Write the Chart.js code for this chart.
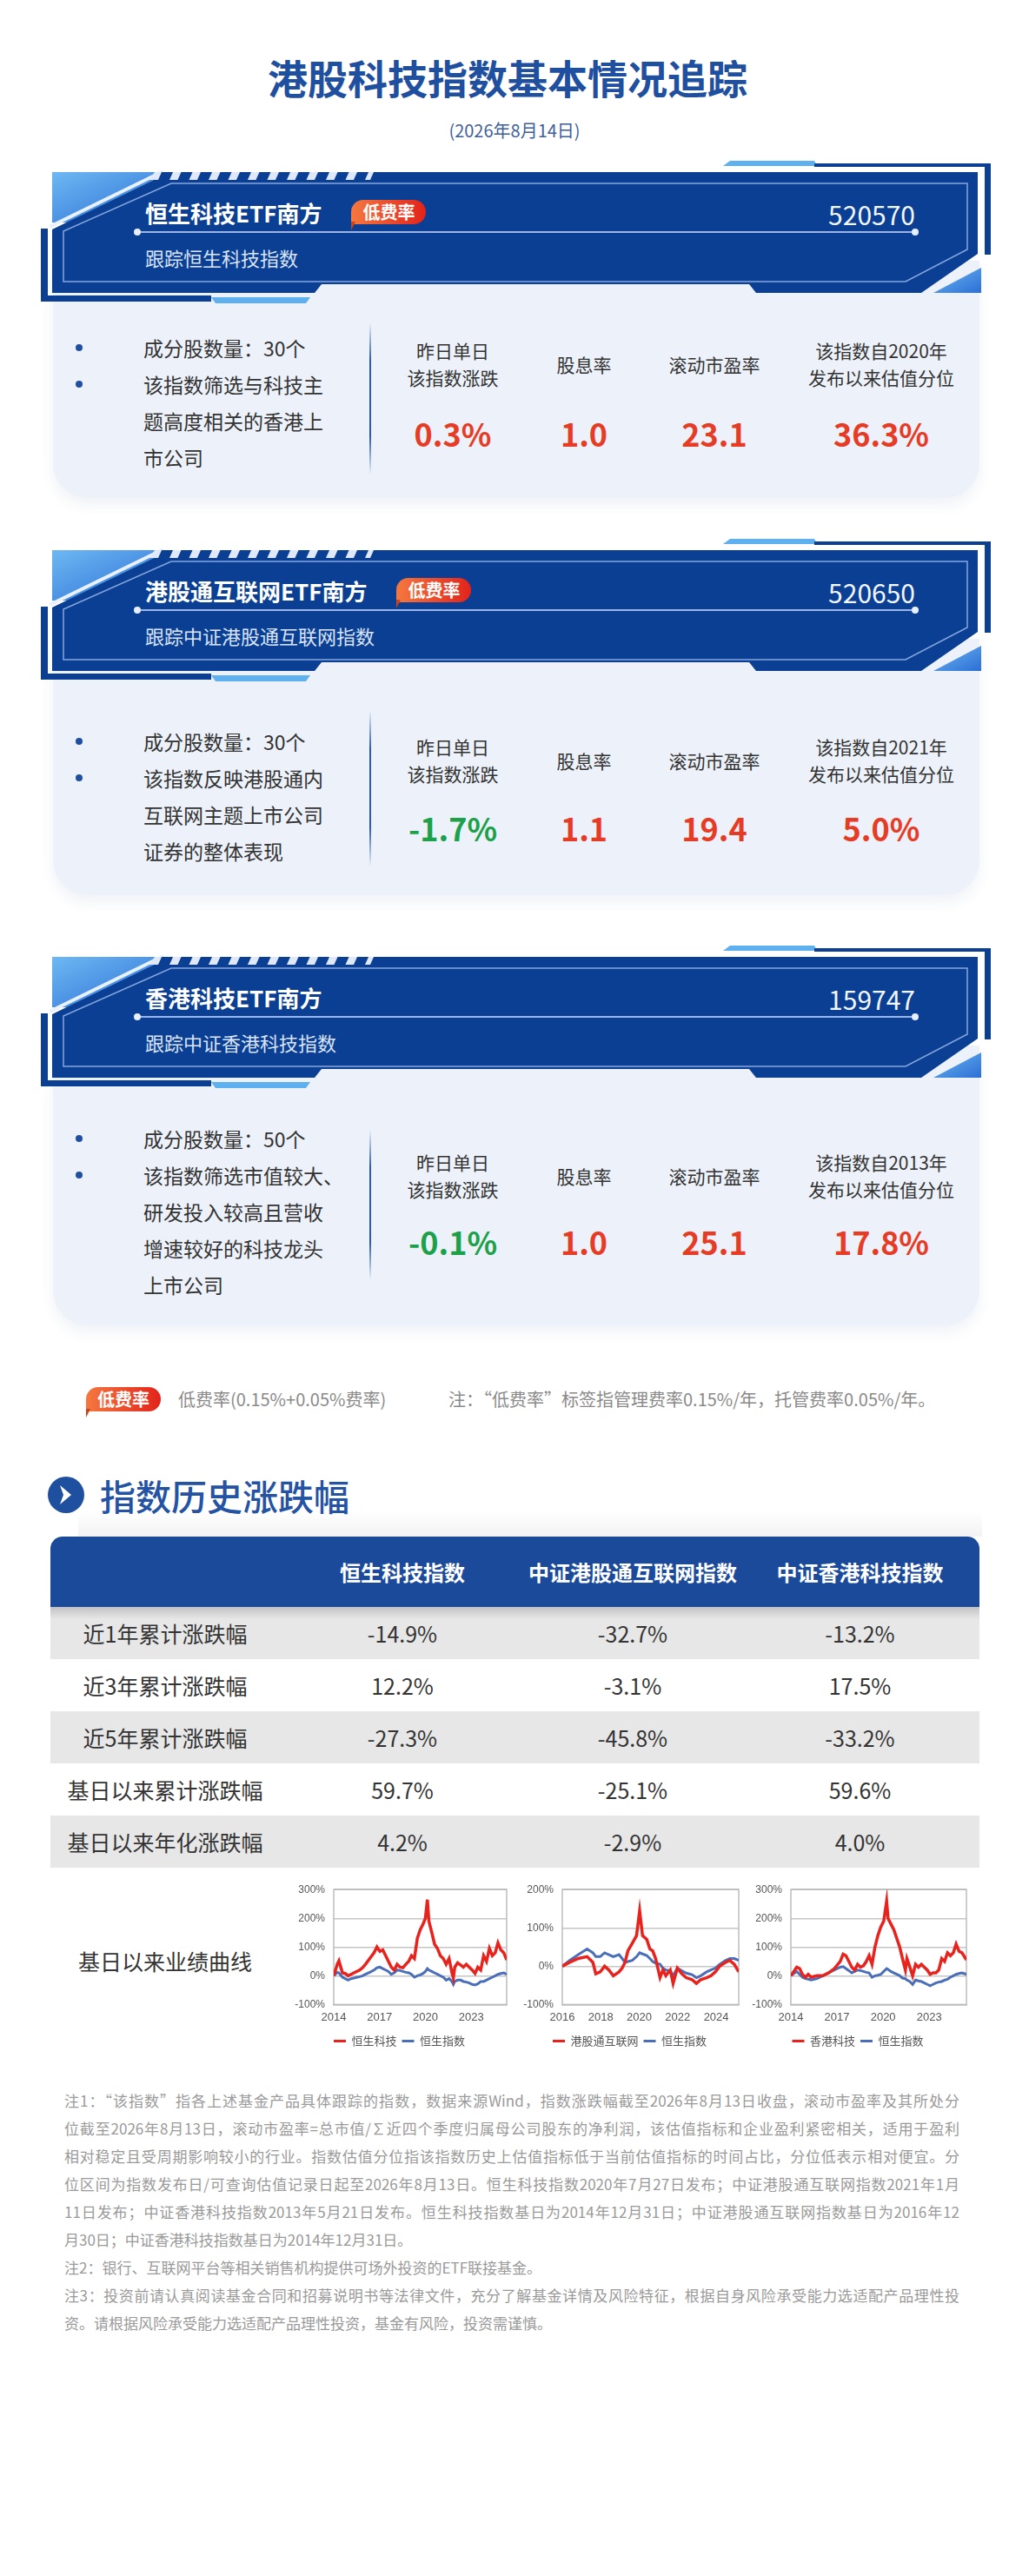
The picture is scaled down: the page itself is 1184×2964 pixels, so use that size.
<!DOCTYPE html>
<html lang="zh-CN">
<head>
<meta charset="utf-8">
<title>港股科技指数基本情况追踪</title>
<script src="https://cdn.jsdelivr.net/npm/chart.js@4.4.1/dist/chart.umd.min.js"></script>
<style>
  html, body { margin: 0; padding: 0; background: #fff; }
  body { position: relative; width: 1184px; height: 2964px; overflow: hidden;
         font-family: "Noto Sans CJK SC", "Noto Sans", sans-serif; color: #333; }
  .abs { position: absolute; }
  .title { left: 0; width: 1168px; top: 56px; text-align: center; font-size: 46px; line-height: 64px; font-weight: 700; color: #1f4f9f; }
  .date { left: 0; width: 1184px; top: 136px; text-align: center; font-size: 20px; line-height: 28px; color: #3f5f9c; }

  .card { position: absolute; left: 0; width: 1184px; height: 10px; }
  .cbody { position: absolute; left: 61px; width: 1066px; top: 100px; background: #edf2fa;
           border-radius: 0 0 40px 40px; box-shadow: 0 8px 16px rgba(40,70,130,0.07); }
  .banner { position: absolute; left: 40px; top: -20px; width: 1110px; height: 175px; }
  .ctitle { position: absolute; left: 167px; top: 26px; height: 36px; display: flex; align-items: center;
            font-size: 26px; font-weight: 700; color: #fff; white-space: nowrap; }
  .badge { display: inline-block; position: relative; height: 28px; line-height: 28px; padding: 0 13px;
           font-size: 20px; font-weight: 700; color: #fff; border-radius: 14px 14px 14px 3px;
           background: linear-gradient(90deg, #f5783f, #e2231b); }
  .badge::after { content: ''; position: absolute; left: 0; top: 25px; border-left: 5px solid #c8441c;
                  border-bottom: 10px solid transparent; }
  .ctitle .badge { margin-left: 34px; }
  .ccode { position: absolute; right: 131px; top: 27px; font-size: 30px; line-height: 38px; color: #f2f6ff; }
  .cline { position: absolute; left: 158px; width: 895px; top: 66px; height: 2px; background: #9bb6e6; }
  .cline::before, .cline::after { content: ''; position: absolute; top: -3px; width: 8px; height: 8px;
                                  border-radius: 50%; background: #e8f0ff; }
  .cline::before { left: -4px; }
  .cline::after { right: -4px; }
  .csub { position: absolute; left: 167px; top: 81px; font-size: 22px; line-height: 30px; color: #d9e4f8; }

  .bul { position: absolute; left: 165px; font-size: 23px; line-height: 42px; color: #333; white-space: nowrap; }
  .bul .it { position: relative; }
  .bul .it::before { content: ''; position: absolute; left: -78px; top: 17px; width: 8px; height: 8px;
                     border-radius: 50%; background: #1f4f9f; }
  .vdiv { position: absolute; left: 425px; width: 2px;
          background: linear-gradient(to bottom, rgba(31,79,159,0), #2a5cae 25%, #2a5cae 75%, rgba(31,79,159,0)); }
  .mets { position: absolute; left: 0; width: 1184px; }
  .met { position: absolute; top: 0; width: 200px; text-align: center; }
  .met .lb { height: 62px; display: flex; align-items: center; justify-content: center;
             font-size: 21px; line-height: 31px; color: #333; }
  .met .vl { margin-top: var(--gap); font-size: 36px; line-height: 40px; font-weight: 700; }
  .up { color: #e63b24; }
  .dn { color: #1ca14a; }

  .legend-badge { left: 99px; top: 1596px; }
  .legend-t { top: 1596px; font-size: 20px; line-height: 28px; color: #8a8a8a; white-space: nowrap; }

  .sec-ic { left: 55px; top: 1699px; width: 42px; height: 42px; }
  .sec-t { left: 115px; top: 1694px; font-size: 41px; line-height: 52px; color: #2453a4; font-weight: 500; }
  .sec-sh { left: 90px; top: 1738px; width: 1040px; height: 30px;
            background: linear-gradient(to bottom, rgba(0,0,0,0), rgba(0,0,0,0.05)); }

  .tbl { position: absolute; left: 58px; top: 1768px; width: 1069px; border-collapse: collapse; table-layout: fixed; }
  .tbl th { height: 81px; padding: 0; background: #1b4a9b; color: #fff; font-size: 24px; font-weight: 700; }
  .tbl th:first-child { border-top-left-radius: 14px; }
  .tbl th:last-child { border-top-right-radius: 14px; }
  .tbl td { height: 60px; padding: 0; text-align: center; font-size: 25px; color: #333; }
  .tbl tbody tr:nth-child(odd) td { background: #e7e7e7; }
  .tbl tr.curve td { height: 214px; background: #fff; }
  .hdr-sh { left: 58px; top: 1849px; width: 1069px; height: 14px;
            background: linear-gradient(to bottom, rgba(0,0,0,0.16), rgba(0,0,0,0)); }

  .cbox { position: absolute; top: 2157px; height: 208px; }

  .notes { left: 74px; top: 2401px; width: 1030px; font-size: 17px; line-height: 32px; color: #9a9a9a; }
  .notes div { height: 32px; text-align: justify; text-align-last: justify; white-space: normal; }
  .notes div.end { text-align-last: left; }
</style>
</head>
<body>

<div class="abs title">港股科技指数基本情况追踪</div>
<div class="abs date">(2026年8月14日)</div>

<!-- card 1 -->
<div class="card" style="top:200px">
  <div class="cbody" style="height:273px"></div>
  <div class="banner"></div>
  <div class="ctitle">恒生科技ETF南方<span class="badge">低费率</span></div>
  <div class="ccode">520570</div>
  <div class="cline"></div>
  <div class="csub">跟踪恒生科技指数</div>
  <div class="bul" style="top:179px">
    <div class="it">成分股数量：30个</div>
    <div class="it">该指数筛选与科技主<br>题高度相关的香港上<br>市公司</div>
  </div>
  <div class="vdiv" style="top:171px;height:175px"></div>
  <div class="mets" style="top:188px;--gap:28px">
    <div class="met" style="left:421px"><div class="lb">昨日单日<br>该指数涨跌</div><div class="vl up">0.3%</div></div>
    <div class="met" style="left:572px"><div class="lb">股息率</div><div class="vl up">1.0</div></div>
    <div class="met" style="left:722px"><div class="lb">滚动市盈率</div><div class="vl up">23.1</div></div>
    <div class="met" style="left:914px"><div class="lb">该指数自2020年<br>发布以来估值分位</div><div class="vl up">36.3%</div></div>
  </div>
</div>

<!-- card 2 -->
<div class="card" style="top:635px">
  <div class="cbody" style="height:295px"></div>
  <div class="banner"></div>
  <div class="ctitle">港股通互联网ETF南方<span class="badge">低费率</span></div>
  <div class="ccode">520650</div>
  <div class="cline"></div>
  <div class="csub">跟踪中证港股通互联网指数</div>
  <div class="bul" style="top:197px">
    <div class="it">成分股数量：30个</div>
    <div class="it">该指数反映港股通内<br>互联网主题上市公司<br>证券的整体表现</div>
  </div>
  <div class="vdiv" style="top:182px;height:180px"></div>
  <div class="mets" style="top:209px;--gap:26px">
    <div class="met" style="left:421px"><div class="lb">昨日单日<br>该指数涨跌</div><div class="vl dn">-1.7%</div></div>
    <div class="met" style="left:572px"><div class="lb">股息率</div><div class="vl up">1.1</div></div>
    <div class="met" style="left:722px"><div class="lb">滚动市盈率</div><div class="vl up">19.4</div></div>
    <div class="met" style="left:914px"><div class="lb">该指数自2021年<br>发布以来估值分位</div><div class="vl up">5.0%</div></div>
  </div>
</div>

<!-- card 3 -->
<div class="card" style="top:1103px">
  <div class="cbody" style="height:322px"></div>
  <div class="banner"></div>
  <div class="ctitle">香港科技ETF南方</div>
  <div class="ccode">159747</div>
  <div class="cline"></div>
  <div class="csub">跟踪中证香港科技指数</div>
  <div class="bul" style="top:186px">
    <div class="it">成分股数量：50个</div>
    <div class="it">该指数筛选市值较大、<br>研发投入较高且营收<br>增速较好的科技龙头<br>上市公司</div>
  </div>
  <div class="vdiv" style="top:197px;height:173px"></div>
  <div class="mets" style="top:219px;--gap:24px">
    <div class="met" style="left:421px"><div class="lb">昨日单日<br>该指数涨跌</div><div class="vl dn">-0.1%</div></div>
    <div class="met" style="left:572px"><div class="lb">股息率</div><div class="vl up">1.0</div></div>
    <div class="met" style="left:722px"><div class="lb">滚动市盈率</div><div class="vl up">25.1</div></div>
    <div class="met" style="left:914px"><div class="lb">该指数自2013年<br>发布以来估值分位</div><div class="vl up">17.8%</div></div>
  </div>
</div>

<span class="abs badge legend-badge">低费率</span>
<div class="abs legend-t" style="left:205px">低费率(0.15%+0.05%费率)</div>
<div class="abs legend-t" style="left:516px">注：“低费率”标签指管理费率0.15%/年，托管费率0.05%/年。</div>

<svg class="abs sec-ic" viewBox="-21 -21 42 42">
  <circle r="21" fill="#1f4f9f"/>
  <path d="M-7,-11 L6,0 L-7,11 L-3,0 Z" fill="#fff"/>
</svg>
<div class="abs sec-t">指数历史涨跌幅</div>
<div class="abs sec-sh"></div>

<table class="tbl">
  <colgroup><col style="width:264px"><col style="width:282px"><col style="width:248px"><col style="width:275px"></colgroup>
  <thead><tr><th></th><th>恒生科技指数</th><th>中证港股通互联网指数</th><th>中证香港科技指数</th></tr></thead>
  <tbody>
    <tr><td>近1年累计涨跌幅</td><td>-14.9%</td><td>-32.7%</td><td>-13.2%</td></tr>
    <tr><td>近3年累计涨跌幅</td><td>12.2%</td><td>-3.1%</td><td>17.5%</td></tr>
    <tr><td>近5年累计涨跌幅</td><td>-27.3%</td><td>-45.8%</td><td>-33.2%</td></tr>
    <tr><td>基日以来累计涨跌幅</td><td>59.7%</td><td>-25.1%</td><td>59.6%</td></tr>
    <tr><td>基日以来年化涨跌幅</td><td>4.2%</td><td>-2.9%</td><td>4.0%</td></tr>
    <tr class="curve"><td>基日以来业绩曲线</td><td></td><td></td><td></td></tr>
  </tbody>
</table>
<div class="abs hdr-sh"></div>

<div class="cbox" style="left:336px;width:251px"><canvas id="chartHstech"></canvas></div>
<div class="cbox" style="left:599px;width:255px"><canvas id="chartInternet"></canvas></div>
<div class="cbox" style="left:862px;width:254px"><canvas id="chartHktech"></canvas></div>

<div class="abs notes">
  <div>注1：“该指数”指各上述基金产品具体跟踪的指数，数据来源Wind，指数涨跌幅截至2026年8月13日收盘，滚动市盈率及其所处分</div>
  <div>位截至2026年8月13日，滚动市盈率=总市值/∑近四个季度归属母公司股东的净利润，该估值指标和企业盈利紧密相关，适用于盈利</div>
  <div>相对稳定且受周期影响较小的行业。指数估值分位指该指数历史上估值指标低于当前估值指标的时间占比，分位低表示相对便宜。分</div>
  <div>位区间为指数发布日/可查询估值记录日起至2026年8月13日。恒生科技指数2020年7月27日发布；中证港股通互联网指数2021年1月</div>
  <div>11日发布；中证香港科技指数2013年5月21日发布。恒生科技指数基日为2014年12月31日；中证港股通互联网指数基日为2016年12</div>
  <div class="end">月30日；中证香港科技指数基日为2014年12月31日。</div>
  <div class="end">注2：银行、互联网平台等相关销售机构提供可场外投资的ETF联接基金。</div>
  <div>注3：投资前请认真阅读基金合同和招募说明书等法律文件，充分了解基金详情及风险特征，根据自身风险承受能力选适配产品理性投</div>
  <div class="end">资。请根据风险承受能力选适配产品理性投资，基金有风险，投资需谨慎。</div>
</div>

<script>
// ---- chart data (% change since base date) ----
const hstechYears = [2014.00, 2014.23, 2014.34, 2014.57, 2014.75, 2014.94, 2015.13, 2015.32, 2015.70, 2015.89,
  2016.08, 2016.36, 2016.64, 2016.83, 2017.02, 2017.21, 2017.40, 2017.58, 2017.77, 2017.96,
  2018.15, 2018.34, 2018.53, 2018.72, 2018.91, 2019.09, 2019.28, 2019.47, 2019.66, 2019.85,
  2020.00, 2020.13, 2020.23, 2020.42, 2020.60, 2020.79, 2020.98, 2021.17, 2021.36, 2021.55,
  2021.74, 2021.83, 2021.92, 2022.11, 2022.30, 2022.49, 2022.68, 2022.87, 2023.06, 2023.25,
  2023.43, 2023.62, 2023.81, 2024.00, 2024.19, 2024.38, 2024.57, 2024.75, 2024.94, 2025.13, 2025.32];
const hstechValues = [0, 40, 52, 10, 8, 0, 5, 10, 20, 28,
  40, 60, 80, 100, 85, 90, 70, 50, 30, 20,
  40, 30, 28, 40, 50, 70, 60, 130, 160, 180,
  200, 265, 190, 150, 110, 95, 70, 60, 40, 60,
  10, -8, 30, 45, 38, 30, 40, 30, 20, 8,
  30, 20, 70, 50, 95, 70, 80, 115, 90, 80, 55];
const hsiVsHstech = [0, 12, 10, -5, -10, -15, -10, -8, -3, 0,
  5, 12, 20, 28, 30, 25, 20, 15, 5, 10,
  20, 18, 15, 12, 10, 5, -5, 0, 3, 8,
  15, 25, 20, 15, 10, 5, 0, -5, -15, -10,
  -20, -30, -20, -15, -15, -20, -22, -25, -30, -32,
  -28, -20, -20, -15, -10, -5, 0, 5, 8, 10, 5];

const internetYears = [2016.00, 2016.38, 2016.83, 2017.29, 2017.59, 2017.74, 2017.97, 2018.20, 2018.42, 2018.65,
  2018.95, 2019.11, 2019.26, 2019.41, 2019.64, 2019.86, 2020.02, 2020.17, 2020.39, 2020.55,
  2020.70, 2020.85, 2021.08, 2021.23, 2021.38, 2021.61, 2021.76, 2021.98, 2022.21, 2022.44,
  2022.74, 2022.97, 2023.20, 2023.50, 2023.73, 2023.95, 2024.18, 2024.48, 2024.71, 2024.94, 2025.17];
const internetValues = [0, 10, 20, 25, 10, -20, -15, 0, -10, -25,
  -15, -5, 10, 40, 60, 80, 145, 80, 70, 45,
  40, 20, -30, -10, -25, -10, -45, -5, -20, -30,
  -35, -45, -35, -30, -25, -15, 0, 10, 15, 5, -15];
const hsiVsInternet = [0, 15, 30, 45, 35, 25, 25, 35, 30, 25,
  30, 20, 10, 12, 15, 25, 35, 32, 28, 20,
  12, 8, 5, -5, -10, -12, -25, -5, -12, -18,
  -22, -30, -25, -15, -10, -5, 5, 15, 20, 20, 15];

const hktechYears = [2014.00, 2014.19, 2014.38, 2014.57, 2014.75, 2014.94, 2015.13, 2015.32, 2015.70, 2016.08,
  2016.45, 2016.83, 2017.21, 2017.40, 2017.58, 2017.77, 2017.96, 2018.15, 2018.34, 2018.53,
  2018.72, 2018.91, 2019.09, 2019.28, 2019.47, 2019.66, 2019.85, 2020.04, 2020.23, 2020.32,
  2020.51, 2020.70, 2020.89, 2021.08, 2021.26, 2021.45, 2021.55, 2021.74, 2021.92, 2022.11,
  2022.30, 2022.49, 2022.68, 2022.87, 2023.06, 2023.25, 2023.43, 2023.62, 2023.81, 2024.00,
  2024.19, 2024.38, 2024.57, 2024.75, 2024.94, 2025.13, 2025.42];
const hktechValues = [0, 15, 30, 25, 5, -5, 5, -5, 0, 0,
  10, 25, 50, 75, 70, 50, 30, 20, 40, 30,
  35, 50, 70, 40, 100, 140, 170, 190, 260, 200,
  180, 160, 130, 100, 60, 20, 60, 30, 0, 40,
  30, 40, 30, 20, 5, 10, 10, 20, 60, 50,
  80, 70, 80, 110, 85, 80, 55];
const hsiVsHktech = [0, 8, 15, 5, -5, -10, -12, -15, -10, 0,
  10, 20, 30, 32, 25, 18, 10, 15, 20, 18,
  15, 12, 10, -5, 0, 2, 5, 15, 25, 22,
  15, 10, 5, 0, -8, -10, -15, -20, -30, -15,
  -18, -20, -25, -30, -35, -30, -25, -22, -20, -15,
  -12, -5, 0, 5, 8, 10, 5];

const ticks14 = [2014, 2017, 2020, 2023];
const ticks16 = [2016, 2018, 2020, 2022, 2024];

// ---- decorative banner frame, same for each card ----
const bannerSvg = `
<svg viewBox="40 -20 1110 175" width="1110" height="175">
  <defs>
    <linearGradient id="lb" x1="0" y1="0" x2="1" y2="1">
      <stop offset="0" stop-color="#6db8f3"/><stop offset="1" stop-color="#2b6fd5"/>
    </linearGradient>
  </defs>
  <rect x="60" y="-2" width="132" height="58" fill="url(#lb)"/>
  <line x1="188" y1="-3" x2="57" y2="61" stroke="#e9f1fc" stroke-width="4"/>
  <polygon points="196,-2 1125,-2 1125,92 1060,137 870,137 862,127 370,127 362,137 60,137 60,64" fill="#0b3f93"/>
  <polygon points="178,-2 430,-2 426,7 172,7" fill="#dfe9f9"/>
  ${Array.from({ length: 11 }, (_, i) => {
    const x = 186 + i * 22.5;
    return `<polygon points="${x},-2 ${x + 13},-2 ${x + 9},7 ${x - 4},7" fill="#0b3f93"/>`;
  }).join('')}
  <path d="M197,11 L1113,11 L1113,87 L1042,124 L73,124 L73,66 Z" fill="none" stroke="#86a6de" stroke-width="1.5"/>
  <rect x="47" y="63" width="8" height="84" fill="#0b3f93"/>
  <rect x="47" y="140" width="196" height="7" fill="#0b3f93"/>
  <polygon points="243,142 357,142 352,149 248,149" fill="#5eb0ee"/>
  <polygon points="1129,108 1129,137 1074,137" fill="url(#lb)"/>
  <polygon points="832,-9 840,-15 937,-15 940,-9" fill="#5eb0ee"/>
  <rect x="937" y="-12" width="203" height="4" fill="#0b3f93"/>
  <rect x="1133" y="-12" width="7" height="105" fill="#0b3f93"/>
</svg>`;
document.querySelectorAll('.banner').forEach(el => { el.innerHTML = bannerSvg; });

// ---- line charts ----
const plotFrame = {
  id: 'plotFrame',
  beforeDatasetsDraw(chart) {
    const { ctx, chartArea: a } = chart;
    ctx.save();
    ctx.strokeStyle = '#bdbdbd';
    ctx.lineWidth = 1.5;
    ctx.strokeRect(a.left, a.top, a.right - a.left, a.bottom - a.top);
    ctx.restore();
  }
};

Chart.defaults.font.family = '"Liberation Sans", "Noto Sans CJK SC", sans-serif';
Chart.defaults.animation = false;

function makeChart(id, years, redValues, blueValues, redName, yMax, xTicks) {
  const toPoints = vals => years.map((x, i) => ({ x: x, y: vals[i] }));
  return new Chart(document.getElementById(id), {
    type: 'line',
    data: {
      datasets: [{
        label: redName,
        data: toPoints(redValues),
        borderColor: '#e8221c',
        backgroundColor: '#e8221c',
        borderWidth: 3.5,
        pointRadius: 0,
        tension: 0
      }, {
        label: '恒生指数',
        data: toPoints(blueValues),
        borderColor: '#4a6fb8',
        backgroundColor: '#4a6fb8',
        borderWidth: 3,
        pointRadius: 0,
        tension: 0
      }]
    },
    options: {
      responsive: true,
      maintainAspectRatio: false,
      layout: { padding: { top: 8, right: 4 } },
      plugins: {
        tooltip: { enabled: false },
        legend: {
          position: 'bottom',
          labels: {
            boxWidth: 14,
            boxHeight: 3,
            padding: 6,
            color: '#555',
            font: { size: 13, family: '"Noto Sans CJK SC", sans-serif' },
            generateLabels: chart => Chart.defaults.plugins.legend.labels.generateLabels(chart)
              .map(l => Object.assign(l, { lineWidth: 0 }))
          }
        }
      },
      scales: {
        x: {
          type: 'linear',
          min: xTicks[0],
          max: years[years.length - 1],
          afterBuildTicks: s => { s.ticks = xTicks.map(v => ({ value: v })); },
          ticks: { callback: v => String(v), color: '#555', font: { size: 13 }, padding: 7, maxRotation: 0, autoSkip: false },
          grid: { display: false, drawTicks: false },
          border: { display: true, color: '#bdbdbd', width: 1.5 }
        },
        y: {
          min: -100,
          max: yMax,
          afterFit: s => { s.width = 48; },
          ticks: { stepSize: 100, callback: v => v + '%', color: '#555', font: { size: 12 }, padding: 10 },
          grid: { color: '#c6c6c6', lineWidth: 1.5, drawTicks: false },
          border: { display: false }
        }
      }
    },
    plugins: [plotFrame]
  });
}

makeChart('chartHstech', hstechYears, hstechValues, hsiVsHstech, '恒生科技', 300, ticks14);
makeChart('chartInternet', internetYears, internetValues, hsiVsInternet, '港股通互联网', 200, ticks16);
makeChart('chartHktech', hktechYears, hktechValues, hsiVsHktech, '香港科技', 300, ticks14);
</script>
</body>
</html>
